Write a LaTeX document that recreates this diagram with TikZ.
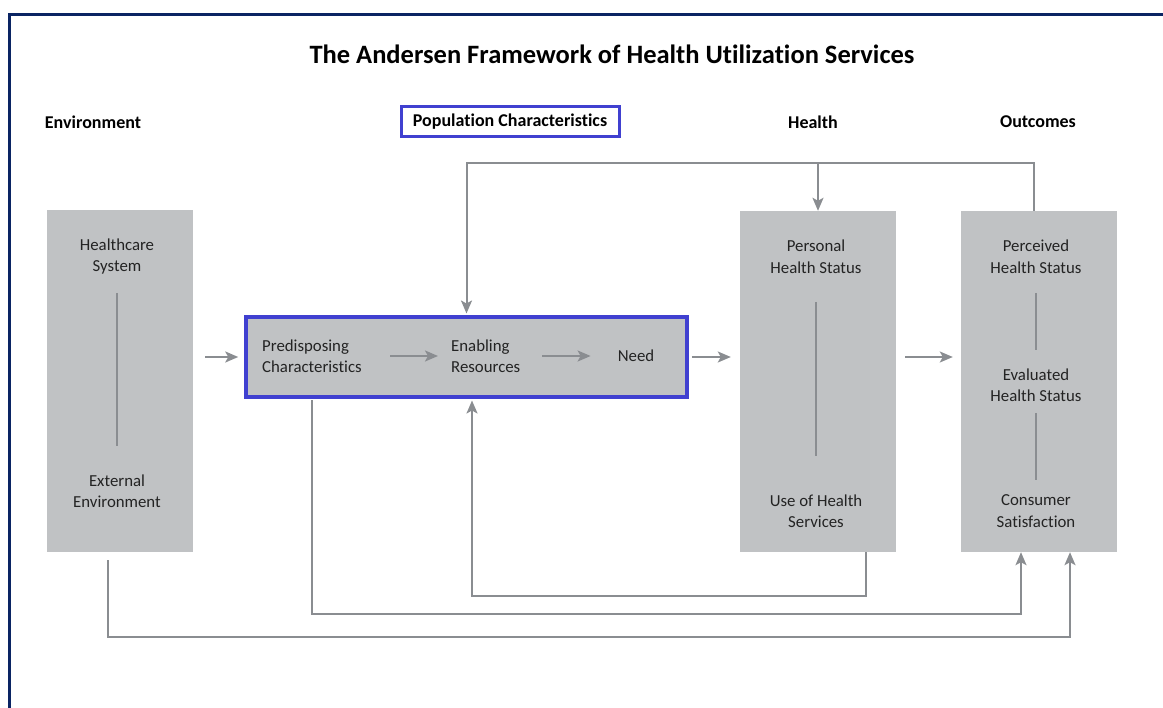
\documentclass[tikz,border=0pt]{standalone}
\usepackage{fontspec}
\setmainfont{Carlito}[Ligatures=NoCommon]
\usetikzlibrary{positioning, calc}
\usetikzlibrary{arrows.meta}
\definecolor{framenavy}{RGB}{10,36,99}
\definecolor{popblue}{RGB}{64,64,208}
\definecolor{boxgray}{RGB}{192,194,196}
\definecolor{linegray}{RGB}{138,141,145}
\definecolor{textgray}{RGB}{35,35,35}
\tikzstyle{graybox}=[fill=boxgray,inner sep=0pt]
\tikzstyle{boxtext}=[inner sep=0pt,align=center,text=textgray,font=\fontsize{16.8}{21.5}\selectfont]
\tikzstyle{headtext}=[inner sep=0pt,font=\bfseries\fontsize{18}{21}\selectfont]
\tikzstyle{sepline}=[draw=linegray,line width=1.5pt]
\tikzstyle{flowline}=[-{Stealth[length=13pt,width=11pt,inset=3pt]},draw=linegray,line width=2pt]

\begin{document}
\begin{tikzpicture}[x=1pt,y=-1pt]
    \useasboundingbox (0,0) rectangle (1163,708);
    \draw[framenavy,line width=3pt] (9.5,708) -- (9.5,14.5) -- (1163,14.5);

    \node[font=\bfseries\fontsize{26.5}{30}\selectfont] (title) at (612,54) {The Andersen Framework of Health Utilization Services};

    % column headings
    \node[headtext] (henv) at (93,122) {Environment};
    \node[headtext,draw=popblue,line width=3pt,minimum width=218pt,minimum height=30pt] (hpop) at (510,122) {Population Characteristics};
    \node[headtext] (hhealth) at (813,122) {Health};
    \node[headtext] (hout) at (1038,122) {Outcomes};

    % boxes
    \node[graybox,minimum width=146pt,minimum height=342pt] (env) at (120,381) {};
    \node[graybox,draw=popblue,line width=3.5pt,minimum width=441pt,minimum height=80pt] (pop) at (466.5,357) {};
    \node[graybox,minimum width=156pt,minimum height=341pt] (health) at (818,381.5) {};
    \node[graybox,minimum width=156pt,minimum height=341pt] (out) at (1039,381.5) {};

    \node[boxtext] (hcs) at (117,256.5) {Healthcare\\System};
    \node[boxtext] (extenv) at (117,491) {External\\Environment};
    \node[boxtext,align=left,anchor=west,text width=110pt] (pre) at (262,356) {Predisposing\\Characteristics};
    \node[boxtext,align=left,anchor=west,text width=80pt] (ena) at (451,356) {Enabling\\Resources};
    \node[boxtext] (need) at (636,356) {Need};
    \node[boxtext] (phs) at (816,256.5) {Personal\\Health Status};
    \node[boxtext] (use) at (816,511) {Use of Health\\Services};
    \node[boxtext] (perc) at (1036,256.5) {Perceived\\Health Status};
    \node[boxtext] (eval) at (1036,385) {Evaluated\\Health Status};
    \node[boxtext] (cons) at (1036,511) {Consumer\\Satisfaction};

    % lines inside the boxes
    \draw[sepline,shorten <=36.5pt,shorten >=45pt] (hcs.center) -- (extenv.center);
    \draw[sepline,shorten <=45.5pt,shorten >=55pt] (phs.center) -- (use.center);
    \draw[sepline,shorten <=36.5pt,shorten >=35pt] (perc.center) -- (eval.center);
    \draw[sepline,shorten <=28pt,shorten >=31pt] (eval.center) -- (cons.center);

    % main flow
    \draw[flowline,shorten <=18pt,shorten >=13pt] (pre) -- (pre -| ena.west);
    \draw[flowline,shorten <=11pt,shorten >=27pt] (ena.east |- pre) -- (pre -| need.west);
    \draw[flowline,shorten <=12pt,shorten >=6pt] (env.east |- pop.west) -- (pop.west);
    \draw[flowline,shorten <=3pt,shorten >=9pt] (pop.east) -- (pop.east -| health.west);
    \draw[flowline,shorten <=9pt,shorten >=8pt] (health.east |- pop.east) -- (out.west |- pop.east);

    % feedback
    \draw[flowline,shorten >=1.75pt] ([xshift=-5pt]out.north) -- ++(0,-48) -| (pop.north);
    \draw[flowline] ([yshift=48pt]health.north) -- (health.north);
    \draw[flowline,shorten >=1.75pt] ([xshift=48pt]health.south) -- ++(0,44) -| ([xshift=5.5pt]pop.south);
    \draw[flowline,shorten <=1.75pt] ([xshift=-154.5pt]pop.south) -- ++(0,215.5) -| ([xshift=-18pt]out.south);
    \draw[flowline,shorten <=8pt] ([xshift=-12pt]env.south) -- ++(0,85) -| ([xshift=31pt]out.south);
\end{tikzpicture}
\end{document}
